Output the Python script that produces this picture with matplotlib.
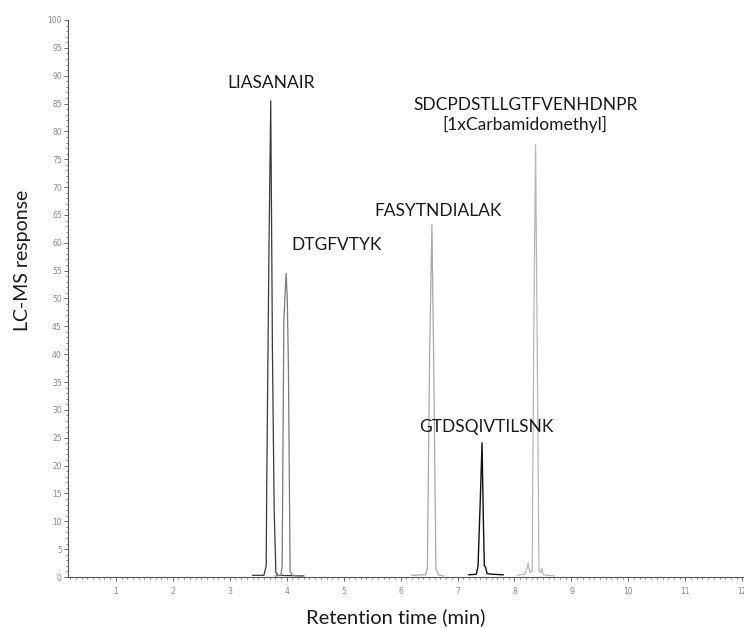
import matplotlib.pyplot as plt
from matplotlib.ticker import MultipleLocator

# retention time (min) and response for each peptide trace
lias_t = [3.40, 3.60, 3.64, 3.65, 3.69, 3.72, 3.75, 3.78, 3.81, 3.85, 4.30]
lias_y = [0.3, 0.3, 2.0, 17.0, 60.0, 85.5, 40.0, 12.0, 0.8, 0.3, 0.2]

dtg_t = [3.80, 3.90, 3.92, 3.95, 3.99, 4.01, 4.03, 4.06, 4.10, 4.25]
dtg_y = [0.2, 0.3, 2.0, 46.0, 54.5, 50.0, 38.0, 1.0, 0.3, 0.2]

fasy_t = [6.20, 6.44, 6.47, 6.51, 6.55, 6.58, 6.62, 6.66, 6.75]
fasy_y = [0.3, 0.4, 1.5, 40.0, 63.2, 40.0, 1.5, 0.4, 0.2]

gtd_t = [7.20, 7.33, 7.36, 7.40, 7.43, 7.45, 7.47, 7.49, 7.52, 7.60, 7.80]
gtd_y = [0.4, 0.5, 2.0, 14.0, 24.1, 12.0, 2.0, 1.8, 0.6, 0.5, 0.4]

sdcp_t = [8.05, 8.18, 8.22, 8.24, 8.27, 8.31, 8.34, 8.37, 8.40, 8.43, 8.46, 8.48, 8.51, 8.58, 8.70]
sdcp_y = [0.3, 0.5, 1.5, 2.5, 0.8, 1.0, 45.0, 77.6, 40.0, 1.0, 0.8, 1.5, 0.4, 0.3, 0.2]

peptides = ["LIASANAIR", "DTGFVTYK", "FASYTNDIALAK", "GTDSQIVTILSNK",
            "SDCPDSTLLGTFVENHDNPR\n[1xCarbamidomethyl]"]
label_x = [3.73, 4.87, 6.65, 7.50, 8.19]
label_y = [88.7, 59.6, 65.7, 26.9, 83.0]

fig = plt.figure(figsize=(7.44, 6.28), dpi=100)
ax = fig.add_axes([0.0914, 0.0812, 0.9086, 0.887])

ax.plot(lias_t, lias_y, color="#3a3a3a", lw=0.9)
ax.plot(dtg_t, dtg_y, color="#7a7a7a", lw=0.9)
ax.plot(fasy_t, fasy_y, color="#a8a8a8", lw=0.9)
ax.plot(gtd_t, gtd_y, color="#111111", lw=1.0)
ax.plot(sdcp_t, sdcp_y, color="#b8b8b8", lw=0.9)

for name, x, y in zip(peptides, label_x, label_y):
    ax.text(x, y, name, ha="center", va="center", fontsize=12.5,
            family="Lato", color="#1a1a1a", linespacing=1.2)

ax.set_xlim(0.16, 12.03)
ax.set_ylim(0, 100)
ax.set_xticks(range(1, 13))
ax.xaxis.set_minor_locator(MultipleLocator(0.1))
ax.yaxis.set_major_locator(MultipleLocator(5))
ax.yaxis.set_minor_locator(MultipleLocator(1))

for s in ["top", "right"]:
    ax.spines[s].set_visible(False)
for s in ["left", "bottom"]:
    ax.spines[s].set_color("#555555")
    ax.spines[s].set_linewidth(0.8)

ax.tick_params(which="major", length=3, width=0.6, color="#555555",
               labelsize=5.5, labelcolor="#8a8a8a", pad=1.5)
ax.tick_params(which="minor", length=1.5, width=0.5, color="#555555")
ax.tick_params(axis="x", pad=4)

# axis titles placed like in the source slide
fig.text(396 / 744, 1 - 617 / 628, "Retention time (min)", ha="center", va="center",
         fontsize=14.5, family="Lato", color="#1a1a1a")
fig.text(23 / 744, 1 - 260 / 628, "LC-MS response", ha="center", va="center",
         rotation=90, fontsize=14, family="Lato", color="#1a1a1a")

fig.savefig("out.png", dpi=100)
